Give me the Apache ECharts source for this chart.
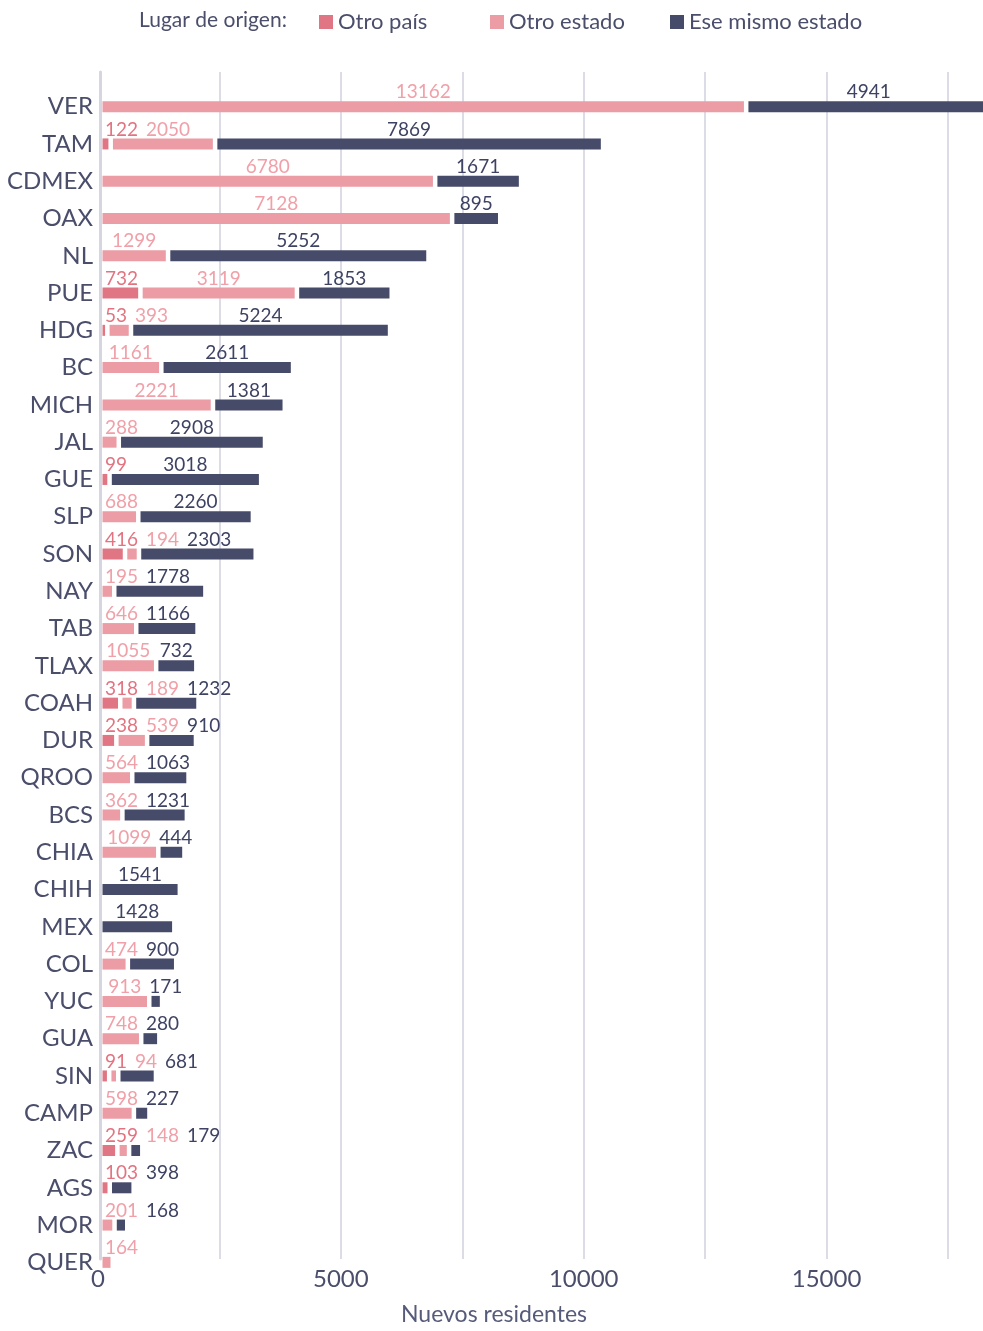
<!DOCTYPE html>
<html>
<head>
<meta charset="utf-8">
<script src="https://cdn.jsdelivr.net/npm/echarts@6/dist/echarts.min.js"></script>
<style>
html,body{margin:0;padding:0;background:#fff}
#chart{width:983px;height:1331px}
</style>
</head>
<body>
<div id="chart"></div>
<script>
// states, sorted by total new residents (top to bottom)
var estados = ['VER','TAM','CDMEX','OAX','NL','PUE','HDG','BC','MICH','JAL','GUE','SLP','SON','NAY','TAB','TLAX',
  'COAH','DUR','QROO','BCS','CHIA','CHIH','MEX','COL','YUC','GUA','SIN','CAMP','ZAC','AGS','MOR','QUER'];
var otroPais = [null,122,null,null,null,732,53,null,null,null,99,null,416,null,null,null,
  318,238,null,null,null,null,null,null,null,null,91,null,259,103,null,null];
var otroEstado = [13162,2050,6780,7128,1299,3119,393,1161,2221,288,null,688,194,195,646,1055,
  189,539,564,362,1099,null,null,474,913,748,94,598,148,null,201,164];
var mismoEstado = [4941,7869,1671,895,5252,1853,5224,2611,1381,2908,3018,2260,2303,1778,1166,732,
  1232,910,1063,1231,444,1541,1428,900,171,280,681,227,179,398,168,null];
var serieNames = ['Otro país','Otro estado','Ese mismo estado'];
var xTicks = [0, 5000, 10000, 15000];

var X_MAX = 18160;
var GAP = 4.5, BAR_H = 11, LABEL_SEP = 8;
var FONT = 'Lato, "Open Sans", sans-serif';
var TXT = '#4a4e6b';
var colors = ['#e07683', '#eb9ca4', '#474b6a'];
var labelColors = ['#e27481', '#f0a0a8', '#3e4363'];
var legendLeft = [319, 490, 670];
var series3 = [otroPais, otroEstado, mismoEstado];

var measure = document.createElement('canvas').getContext('2d');
measure.font = '19px ' + FONT;

// segments of one row, with a gap between them, and labels pushed right so they don't overlap
function rowLayout(i, api) {
  var zero = api.coord([0, i])[0];
  var x = zero + GAP;
  var out = [], lastRight = -Infinity;
  for (var s = 0; s < 3; s++) {
    var v = series3[s][i];
    if (v == null) { out.push(null); continue; }
    var w = api.size([v, 0])[0];
    var tw = measure.measureText(String(v)).width;
    var left = Math.max(x + w / 2 - tw / 2, zero + 7, lastRight + LABEL_SEP);
    lastRight = left + tw;
    out.push({x: x, w: w, labelX: left});
    x += w + GAP;
  }
  return out;
}

function makeRender(s) {
  return function (params, api) {
    var i = params.dataIndex;
    var seg = rowLayout(i, api)[s];
    if (!seg) return null;
    var yc = api.coord([0, i])[1];
    var top = yc - BAR_H / 2;
    return {
      type: 'group',
      children: [
        {type: 'rect', shape: {x: seg.x, y: top, width: seg.w, height: BAR_H}, style: {fill: colors[s]}},
        {type: 'text', x: seg.labelX, y: top + 0.5, style: {
          text: String(series3[s][i]), fill: labelColors[s], font: '19px ' + FONT,
          align: 'left', verticalAlign: 'bottom', textAlign: 'left', textVerticalAlign: 'bottom'
        }}
      ]
    };
  };
}

var chart = echarts.init(document.getElementById('chart'));
var option = {
  animation: false,
  textStyle: {fontFamily: FONT},
  title: {
    text: 'Lugar de origen:', left: 139, top: 10, padding: 0,
    textStyle: {fontSize: 21, fontWeight: 'normal', color: TXT, fontFamily: FONT}
  },
  // one legend per origin so each sits in its own slot
  legend: serieNames.map(function (name, s) {
    return {
      left: legendLeft[s], top: 11, padding: 0, itemWidth: 14, itemHeight: 14, icon: 'rect',
      textStyle: {fontSize: 22, color: TXT, fontFamily: FONT},
      data: [name]
    };
  }),
  grid: [
    {left: 98, right: 0, top: 72, bottom: 57},
    {left: 98, right: 0, top: 88, bottom: 50}
  ],
  xAxis: [
    {
      type: 'value', gridIndex: 0, min: 0, max: X_MAX, interval: 2500,
      axisLine: {show: false}, axisTick: {show: false},
      splitLine: {show: true, showMinLine: false, showMaxLine: false, lineStyle: {color: '#dcdce6', width: 2}},
      axisLabel: {
        margin: 8, fontSize: 24, color: TXT, fontFamily: FONT,
        formatter: function (v) { return xTicks.indexOf(v) >= 0 ? String(v) : ''; }
      },
      name: 'Nuevos residentes', nameLocation: 'middle', nameGap: 44,
      nameTextStyle: {fontSize: 23, color: '#575b7a', fontFamily: FONT, padding: [0, 90, 0, 0]}
    },
    {type: 'value', gridIndex: 1, min: 0, max: X_MAX, show: false}
  ],
  yAxis: [
    {
      type: 'value', gridIndex: 0, offset: -2,
      axisLine: {show: true, lineStyle: {color: '#d6d6e0', width: 3}},
      axisTick: {show: false}, axisLabel: {show: false}, splitLine: {show: false}
    },
    {
      type: 'category', gridIndex: 1, data: estados, inverse: true,
      axisLine: {show: false}, axisTick: {show: false},
      axisLabel: {margin: 5, fontSize: 24, color: TXT, fontFamily: FONT, padding: [0, 0, 10, 0]}
    }
  ],
  series: series3.map(function (vals, s) {
    return {
      type: 'custom', name: serieNames[s], xAxisIndex: 1, yAxisIndex: 1,
      itemStyle: {color: colors[s]},
      encode: {x: 0, y: 1},
      data: vals.map(function (v, i) { return [v == null ? 0 : v, i]; }),
      renderItem: makeRender(s)
    };
  })
};
chart.setOption(option);
</script>
</body>
</html>
